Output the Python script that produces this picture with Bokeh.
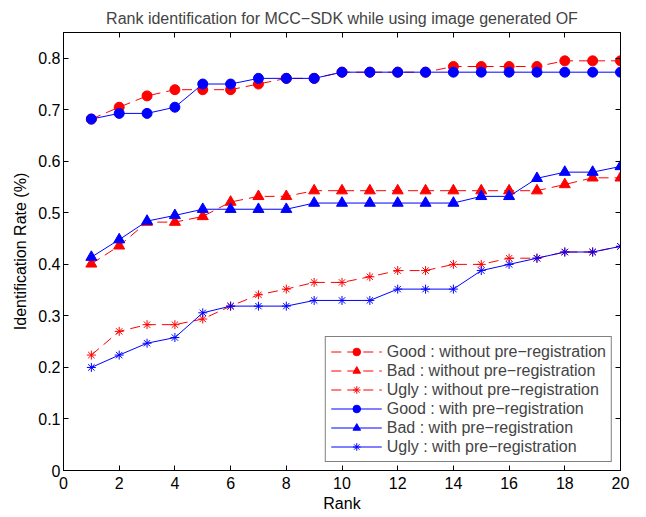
from bokeh.plotting import figure
from bokeh.models import LinearAxis, FixedTicker, Legend, LegendItem, Range1d
from bokeh.embed import file_html
from bokeh.resources import INLINE

rank = list(range(1, 21))
good_without = [0.682, 0.705, 0.727, 0.739, 0.739, 0.739, 0.750, 0.761, 0.761, 0.773,
                0.773, 0.773, 0.773, 0.784, 0.784, 0.784, 0.784, 0.795, 0.795, 0.795]
bad_without = [0.401, 0.436, 0.482, 0.482, 0.493, 0.521, 0.532, 0.532, 0.543, 0.543,
               0.543, 0.543, 0.543, 0.543, 0.543, 0.543, 0.543, 0.555, 0.568, 0.568]
ugly_without = [0.224, 0.270, 0.283, 0.283, 0.294, 0.319, 0.341, 0.352, 0.365, 0.365,
                0.376, 0.388, 0.388, 0.400, 0.400, 0.412, 0.412, 0.424, 0.424, 0.435]
good_with = [0.682, 0.693, 0.693, 0.705, 0.750, 0.750, 0.761, 0.761, 0.761, 0.773,
             0.773, 0.773, 0.773, 0.773, 0.773, 0.773, 0.773, 0.773, 0.773, 0.773]
bad_with = [0.414, 0.448, 0.484, 0.495, 0.507, 0.507, 0.507, 0.507, 0.519, 0.519,
            0.519, 0.519, 0.519, 0.519, 0.532, 0.532, 0.567, 0.579, 0.579, 0.590]
ugly_with = [0.200, 0.224, 0.247, 0.258, 0.306, 0.319, 0.319, 0.319, 0.330, 0.330,
             0.330, 0.352, 0.352, 0.352, 0.388, 0.400, 0.412, 0.424, 0.424, 0.435]

labels = ["Good : without pre\u2212registration", "Bad : without pre\u2212registration",
          "Ugly : without pre\u2212registration", "Good : with pre\u2212registration",
          "Bad : with pre\u2212registration", "Ugly : with pre\u2212registration"]
x_ticks = [0, 2, 4, 6, 8, 10, 12, 14, 16, 18, 20]
y_ticks = [0, 0.1, 0.2, 0.3, 0.4, 0.5, 0.6, 0.7, 0.8]

FONT = "Liberation Sans"
FS = "16px"

p = figure(width=640, height=514, output_backend="svg", toolbar_location=None,
           x_range=Range1d(0, 20), y_range=Range1d(0, 0.85),
           title="Rank identification for MCC\u2212SDK while using image generated OF",
           min_border_left=63, min_border_right=20, min_border_top=32, min_border_bottom=44)
p.title.text_font = FONT
p.title.text_font_size = FS
p.title.text_font_style = "normal"
p.title.align = "center"
p.title.standoff = 12
p.xgrid.visible = False
p.ygrid.visible = False
p.outline_line_color = "black"
p.background_fill_color = "white"
p.border_fill_color = "white"

for ax in (p.xaxis[0], p.yaxis[0]):
    ax.major_label_text_font = FONT
    ax.major_label_text_font_size = FS
    ax.axis_label_text_font = FONT
    ax.axis_label_text_font_size = FS
    ax.axis_label_text_font_style = "normal"
    ax.major_tick_in = 5
    ax.major_tick_out = 0
    ax.minor_tick_line_color = None
    ax.axis_line_color = "black"
    ax.major_tick_line_color = "black"
    ax.major_label_text_color = "black"
    ax.axis_label_text_color = "black"

p.xaxis[0].ticker = FixedTicker(ticks=x_ticks)
p.yaxis[0].ticker = FixedTicker(ticks=y_ticks)
p.yaxis[0].major_label_overrides = {0: "0"}
p.xaxis[0].axis_label = "Rank"
p.yaxis[0].axis_label = "Identification Rate (%)"
p.xaxis[0].axis_label_standoff = 3
p.xaxis[0].major_label_standoff = 6
p.yaxis[0].axis_label_standoff = 6
p.yaxis[0].major_label_standoff = 3

top = LinearAxis(ticker=FixedTicker(ticks=x_ticks), major_label_text_color=None,
                 major_label_overrides={t: "" for t in x_ticks},
                 major_tick_in=5, major_tick_out=0, minor_tick_line_color=None,
                 major_label_standoff=0)
right = LinearAxis(ticker=FixedTicker(ticks=y_ticks), major_label_text_color=None,
                   major_label_overrides={t: "" for t in y_ticks},
                   major_tick_in=5, major_tick_out=0, minor_tick_line_color=None,
                   major_label_standoff=0)
p.add_layout(top, "above")
p.add_layout(right, "right")

RED = "#ff0000"
BLUE = "#0000ff"
series = [
    (good_without, RED, "10 6", "circle", 10),
    (bad_without, RED, "10 6", "triangle", 11),
    (ugly_without, RED, "10 6", "asterisk", 9),
    (good_with, BLUE, "solid", "circle", 10),
    (bad_with, BLUE, "solid", "triangle", 11),
    (ugly_with, BLUE, "solid", "asterisk", 9),
]
items = []
for (vals, col, dash, marker, size), lab in zip(series, labels):
    l = p.line(rank, vals, line_color=col, line_width=1, line_dash=dash)
    if marker == "asterisk":
        s = p.scatter(rank, vals, marker=marker, size=size, line_color=col, line_width=1)
    else:
        s = p.scatter(rank, vals, marker=marker, size=size, fill_color=col, line_color=col)
    items.append(LegendItem(label=lab, renderers=[l, s]))

legend = Legend(items=items, location="bottom_right", margin=8, padding=5, spacing=0,
                label_text_font=FONT, label_text_font_size=FS, label_height=19,
                glyph_height=19, glyph_width=51, label_standoff=5,
                border_line_color="black", border_line_width=1,
                background_fill_color="white", background_fill_alpha=1)
p.add_layout(legend, "center")

open("out.html", "w").write(file_html(p, INLINE))
